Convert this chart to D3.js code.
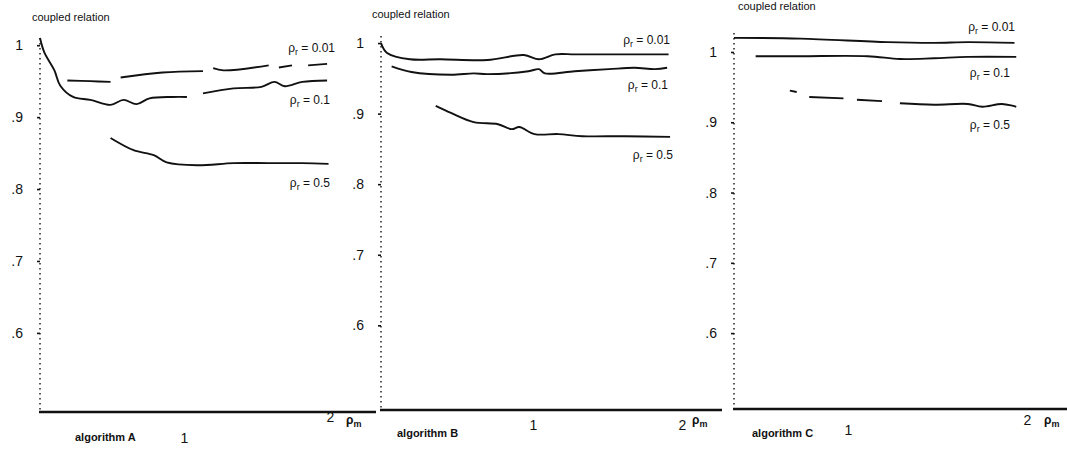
<!DOCTYPE html>
<html>
<head>
<meta charset="utf-8">
<script src="https://cdn.jsdelivr.net/npm/d3@7"></script>
<style>
  body { margin: 0; background: #fff; }
  svg { display: block; }
</style>
</head>
<body>
<svg id="chart" width="1067" height="457"></svg>
<script>
// values, [rho_m, coupled relation]; null = gap in the printed line
var yTicks = [0.6, 0.7, 0.8, 0.9, 1.0];
var xTicks = [1, 2];
var seriesNames = ["0.01", "0.1", "0.5"];

var algA_001 = [[0.19,0.951],[0.35,0.950],[0.49,0.949],[0.52,null],[0.56,0.955],[0.85,0.962],[1.13,0.964],[1.16,null],[1.2,0.968],[1.27,0.965],[1.58,0.972],[1.62,null],[1.65,0.969],[1.74,0.972],[1.78,null],[1.85,0.972],[1.98,0.974]];
var algA_01  = [[0,1.01],[0.03,0.99],[0.1,0.965],[0.14,0.944],[0.23,0.928],[0.35,0.924],[0.49,0.917],[0.58,0.924],[0.67,0.918],[0.76,0.926],[0.92,0.928],[1.02,0.928],[1.07,null],[1.13,0.933],[1.34,0.940],[1.53,0.942],[1.62,0.949],[1.69,0.943],[1.81,0.949],[1.98,0.951]];
var algA_05  = [[0.49,0.871],[0.65,0.854],[0.79,0.847],[0.88,0.837],[1.09,0.833],[1.34,0.836],[1.58,0.836],[1.81,0.836],[1.99,0.835]];

var algB_001 = [[0,1.0],[0.04,0.986],[0.19,0.977],[0.39,0.977],[0.70,0.976],[0.94,0.983],[1.04,0.977],[1.15,0.984],[1.28,0.984],[1.51,0.984],[1.91,0.984]];
var algB_01  = [[0.07,0.967],[0.2,0.959],[0.46,0.955],[0.61,0.957],[0.70,0.956],[0.97,0.960],[1.04,0.963],[1.08,0.957],[1.28,0.960],[1.51,0.963],[1.68,0.965],[1.82,0.963],[1.9,0.965]];
var algB_05  = [[0.36,0.911],[0.46,0.901],[0.61,0.888],[0.77,0.885],[0.86,0.878],[0.91,0.881],[1.01,0.871],[1.17,0.871],[1.33,0.868],[1.62,0.868],[1.92,0.867]];

var algC_001 = [[0,1.02],[0.58,1.019],[1.22,1.014],[1.48,1.013],[1.67,1.014],[1.93,1.013]];
var algC_01  = [[0.19,0.994],[0.58,0.994],[1.11,0.994],[1.29,0.990],[1.48,0.991],[1.67,0.993],[1.94,0.993]];
var algC_05  = [[0.49,0.945],[0.55,0.943],[0.6,null],[0.66,0.936],[0.96,0.934],[1.0,null],[1.05,0.932],[1.19,0.930],[1.24,null],[1.29,0.927],[1.48,0.925],[1.67,0.926],[1.75,0.922],[1.86,0.926],[1.94,0.922]];

// layout of the three panels (pixel geometry only)
var panels = [
  { name: "algorithm A", series: [algA_001, algA_01, algA_05],
    xr: [40, 184, 330], yd: [0.49, 1.01], yr: [412, 38], axisEnd: 376,
    title: [32, 21], algo: [75, 441], tickY: { 1: 443, 2: 422 }, rho: [346, 424],
    labels: [[335, 52], [330, 104], [330, 187]] },
  { name: "algorithm B", series: [algB_001, algB_01, algB_05],
    xr: [381, 533, 682], yd: [0.48, 1.01], yr: [410, 36], axisEnd: 722,
    title: [372, 18], algo: [397, 437], tickY: { 1: 430, 2: 430 }, rho: [692, 424],
    labels: [[670, 44], [668, 89], [673, 159]] },
  { name: "algorithm C", series: [algC_001, algC_01, algC_05],
    xr: [734, 848, 1027], yd: [0.492, 1.027], yr: [409, 33], axisEnd: 1067,
    title: [738, 10], algo: [752, 437], tickY: { 1: 435, 2: 425 }, rho: [1044, 424],
    labels: [[1015, 31], [1010, 77], [1010, 129]] }
];

var svg = d3.select("#chart");
var font = "'Liberation Sans', Arial, sans-serif";

panels.forEach(function (p) {
  var x = d3.scaleLinear().domain([0, 1, 2]).range(p.xr);
  var y = d3.scaleLinear().domain(p.yd).range(p.yr);
  var g = svg.append("g");

  // dotted y axis
  g.append("line")
    .attr("x1", p.xr[0]).attr("x2", p.xr[0])
    .attr("y1", p.yr[1]).attr("y2", p.yr[0])
    .attr("stroke", "#111").attr("stroke-width", 1.4)
    .attr("stroke-dasharray", "1.5,3.5");

  var yAxis = g.append("g")
    .attr("transform", "translate(" + p.xr[0] + ",0)")
    .call(d3.axisLeft(y).tickValues(yTicks).tickSize(3).tickPadding(14)
      .tickFormat(function (d) { return d === 1 ? "1" : d3.format(".1f")(d).replace("0.", "."); }));
  yAxis.select(".domain").remove();
  yAxis.selectAll(".tick line").attr("stroke", "#111").attr("stroke-width", 1.6);
  yAxis.selectAll("text").attr("font-family", font).attr("font-size", 14).attr("fill", "#111");

  // x axis baseline
  g.append("line")
    .attr("x1", p.xr[0] - 1).attr("x2", p.axisEnd)
    .attr("y1", p.yr[0]).attr("y2", p.yr[0])
    .attr("stroke", "#111").attr("stroke-width", 2.4);

  var xAxis = g.append("g")
    .attr("transform", "translate(0," + p.yr[0] + ")")
    .call(d3.axisBottom(x).tickValues(xTicks).tickSize(0).tickFormat(d3.format("d")));
  xAxis.select(".domain").remove();
  xAxis.selectAll("text")
    .attr("font-family", font).attr("font-size", 14).attr("fill", "#111")
    .attr("dy", null)
    .attr("y", function (d) { return p.tickY[d] - p.yr[0]; });

  g.append("text")
    .attr("x", p.rho[0]).attr("y", p.rho[1])
    .attr("font-family", font).attr("font-size", 12).attr("font-weight", "bold").attr("fill", "#111")
    .text("ρ").append("tspan").attr("dy", 3).attr("font-size", 9).text("m");

  g.append("text")
    .attr("x", p.title[0]).attr("y", p.title[1])
    .attr("font-family", font).attr("font-size", 11).attr("fill", "#111")
    .text("coupled relation");

  g.append("text")
    .attr("x", p.algo[0]).attr("y", p.algo[1])
    .attr("font-family", font).attr("font-size", 11).attr("font-weight", "bold").attr("fill", "#111")
    .text(p.name);

  var line = d3.line()
    .defined(function (d) { return d[1] !== null; })
    .x(function (d) { return x(d[0]); })
    .y(function (d) { return y(d[1]); })
    .curve(d3.curveCatmullRom);

  p.series.forEach(function (s, i) {
    g.append("path")
      .datum(s)
      .attr("fill", "none")
      .attr("stroke", "#111")
      .attr("stroke-width", 1.9)
      .attr("d", line);

    var t = g.append("text")
      .attr("x", p.labels[i][0]).attr("y", p.labels[i][1])
      .attr("text-anchor", "end")
      .attr("font-family", font).attr("font-size", 12).attr("fill", "#111");
    t.append("tspan").text("ρ");
    t.append("tspan").attr("dy", 3).attr("font-size", 9).text("r");
    t.append("tspan").attr("dy", -3).text(" = " + seriesNames[i]);
  });
});
</script>
</body>
</html>
